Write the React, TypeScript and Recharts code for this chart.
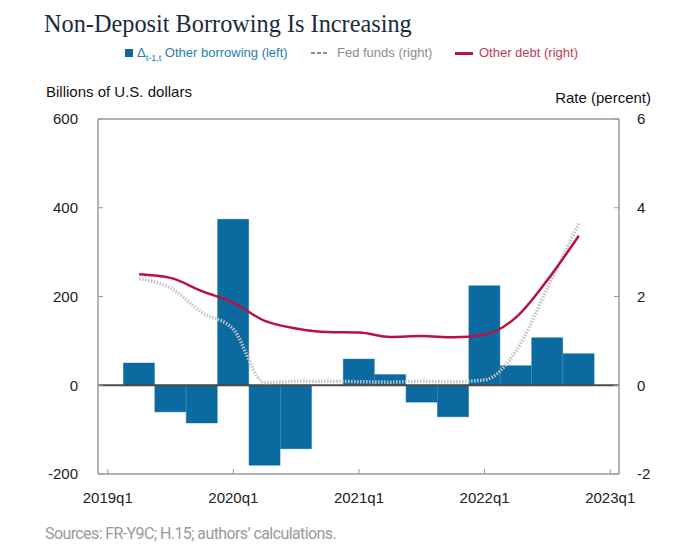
import React from 'react';
import { ComposedChart, Bar, Line, XAxis, YAxis, ReferenceLine } from 'recharts';

// quarters with data (2019q1 and 2023q1 are axis ends only)
const quarters = [
  '2019q2', '2019q3', '2019q4', '2020q1', '2020q2', '2020q3', '2020q4',
  '2021q1', '2021q2', '2021q3', '2021q4', '2022q1', '2022q2', '2022q3', '2022q4',
];
const otherBorrowing = [50, -60, -85, 374, -180, -143, 0, 59, 24, -38, -71, 224, 44, 107, 71];
const fedFunds = [2.4, 2.19, 1.64, 1.26, 0.06, 0.09, 0.09, 0.08, 0.07, 0.09, 0.08, 0.12, 0.77, 2.19, 3.65];
const otherDebt = [2.5, 2.42, 2.12, 1.86, 1.45, 1.28, 1.2, 1.19, 1.09, 1.11, 1.08, 1.14, 1.53, 2.37, 3.37];

const xTickLabels = ['2019q1', '2020q1', '2021q1', '2022q1', '2023q1'];
const leftTicks = [-200, 0, 200, 400, 600];
const rightTicks = [-2, 0, 2, 4, 6];

const quarterIndex = (q: string) => (Number(q.slice(0, 4)) - 2019) * 4 + Number(q.slice(5)) - 1;
const xTicks = xTickLabels.map(quarterIndex);

const data = quarters.map((q, i) => ({
  idx: quarterIndex(q),
  borrowing: otherBorrowing[i],
  fed: fedFunds[i],
  debt: otherDebt[i],
}));

const BLUE = '#0b6a9f';
const RED = '#b8123f';
const FRAME = '#9a9a9a';
const SANS = '"Liberation Sans", Arial, sans-serif';

const App: React.FC = () => {
  const tickStyle = { fill: '#222', fontSize: 15, fontFamily: SANS };
  return (
    <div style={{ position: 'absolute', left: 0, top: 0, width: 700, height: 560, background: '#fff', fontFamily: SANS }}>
      <div style={{ position: 'absolute', left: 44, top: 10, fontFamily: '"Liberation Serif", serif', fontSize: 24.3, color: '#1c2b3f', whiteSpace: 'nowrap' }}>
        Non-Deposit Borrowing Is Increasing
      </div>

      {/* legend */}
      <div style={{ position: 'absolute', left: 125, top: 49, width: 8, height: 8, background: BLUE }} />
      <div style={{ position: 'absolute', left: 137, top: 45, fontSize: 13, color: '#2a7db5', whiteSpace: 'nowrap' }}>
        Δ<sub style={{ fontSize: 9 }}>t-1,t</sub> Other borrowing (left)
      </div>
      <svg style={{ position: 'absolute', left: 310, top: 48 }} width={20} height={10}>
        <line x1={1} y1={5} x2={19} y2={5} stroke="#8c8c8c" strokeWidth={2} strokeDasharray="4 2" />
      </svg>
      <div style={{ position: 'absolute', left: 337, top: 45, fontSize: 13, color: '#8c8c8c', whiteSpace: 'nowrap' }}>
        Fed funds (right)
      </div>
      <div style={{ position: 'absolute', left: 455, top: 52, width: 18, height: 3, background: RED }} />
      <div style={{ position: 'absolute', left: 479, top: 45, fontSize: 13, color: '#c33a55', whiteSpace: 'nowrap' }}>
        Other debt (right)
      </div>

      <div style={{ position: 'absolute', left: 46, top: 83, fontSize: 15, color: '#111', whiteSpace: 'nowrap' }}>
        Billions of U.S. dollars
      </div>
      <div style={{ position: 'absolute', right: 49, top: 89, fontSize: 15, color: '#111', whiteSpace: 'nowrap' }}>
        Rate (percent)
      </div>

      <div style={{ position: 'absolute', top: 0, left: 0 }}>
        <ComposedChart
          width={700}
          height={560}
          data={data}
          barCategoryGap={0}
          barGap={0}
          margin={{ top: 119, right: 31, left: 48, bottom: 56 }}
        >
          <XAxis
            dataKey="idx"
            type="number"
            domain={[-0.31, 16.28]}
            allowDataOverflow
            ticks={xTicks}
            tickFormatter={(v: number) => xTickLabels[xTicks.indexOf(v)] ?? ''}
            height={30}
            tickSize={-5}
            tickMargin={23}
            tick={tickStyle}
            axisLine={{ stroke: FRAME, strokeWidth: 1.5 }}
            tickLine={{ stroke: FRAME }}
          />
          <YAxis
            yAxisId="left"
            domain={[-200, 600]}
            ticks={leftTicks}
            allowDataOverflow
            width={50}
            tickSize={-5}
            tickMargin={25}
            tick={tickStyle}
            axisLine={{ stroke: FRAME, strokeWidth: 1.5 }}
            tickLine={{ stroke: FRAME }}
          />
          <YAxis
            yAxisId="right"
            orientation="right"
            domain={[-2, 6]}
            ticks={rightTicks}
            allowDataOverflow
            width={50}
            tickSize={-5}
            tickMargin={23}
            tick={{ ...tickStyle, textAnchor: 'start' }}
            axisLine={{ stroke: FRAME, strokeWidth: 1.5 }}
            tickLine={{ stroke: FRAME }}
          />
          <ReferenceLine yAxisId="left" y={600} stroke={FRAME} strokeWidth={1.5} />
          <Bar yAxisId="left" dataKey="borrowing" fill={BLUE} stroke={BLUE} strokeWidth={0.5} isAnimationActive={false} />
          <ReferenceLine yAxisId="left" y={0} stroke="#4a4a4a" strokeWidth={2} />
          <Line
            yAxisId="right"
            type="monotone"
            dataKey="fed"
            stroke="#c4c4c4"
            strokeWidth={3.5}
            strokeDasharray="1.5 1.5"
            dot={false}
            isAnimationActive={false}
          />
          <Line
            yAxisId="right"
            type="monotone"
            dataKey="debt"
            stroke={RED}
            strokeWidth={2.5}
            dot={false}
            isAnimationActive={false}
          />
        </ComposedChart>
      </div>

      <div style={{ position: 'absolute', left: 45, top: 524, fontSize: 16, color: '#9a9a9a', fontFamily: 'Roboto, sans-serif', letterSpacing: -0.6, whiteSpace: 'nowrap' }}>
        Sources: FR-Y9C; H.15; authors’ calculations.
      </div>
    </div>
  );
};

export default App;
